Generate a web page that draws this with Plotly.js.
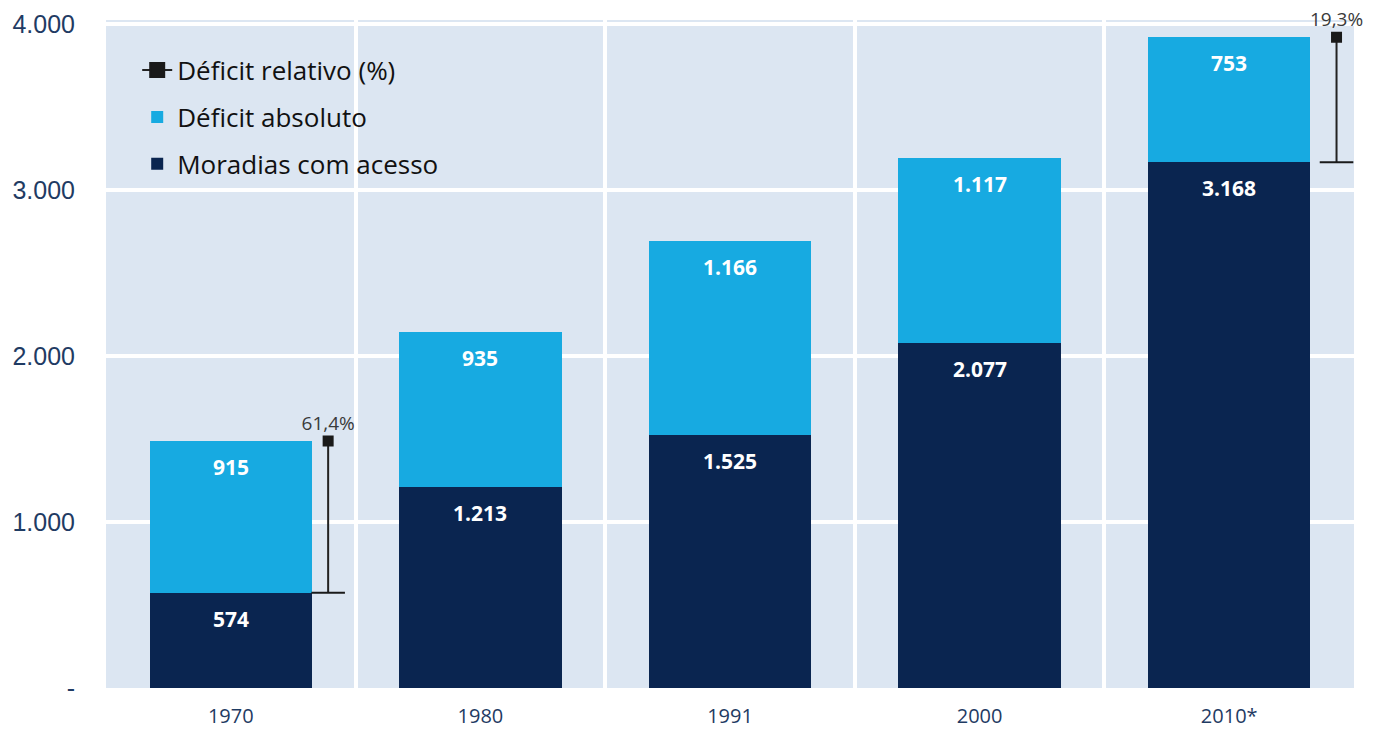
<!DOCTYPE html>
<html><head><meta charset="utf-8">
<script src="https://cdn.plot.ly/plotly-3.0.1.min.js"></script>
<style>html,body{margin:0;padding:0;background:#fff}#c{width:1380px;height:732px}</style>
</head><body><div id="c"></div>
<script>
const categories = ['1970','1980','1991','2000','2010*'];
const moradias = [574, 1213, 1525, 2077, 3168];
const deficitAbs = [915, 935, 1166, 1117, 753];
const moradiasLabels = ['574','1.213','1.525','2.077','3.168'];
const deficitLabels = ['915','935','1.166','1.117','753'];
const relIdx = [0, 4];
const relLabels = ['61,4%','19,3%'];
const relOffset = [0.39, 0.43];
const yTickVals = [0, 1000, 2000, 3000, 4000];
const yTickText = ['-', '1.000', '2.000', '3.000', '4.000'];

const xs = categories.map((c,i)=>i);
const totals = moradias.map((v,i)=>v+deficitAbs[i]);

const DARK = '#0a2550', LIGHT = '#17aae1';

const traces = [
  {type:'bar', name:'Moradias com acesso', legendgroup:'a', legendrank:3, x:xs, y:moradias, width:0.65,
   marker:{color:DARK}, hoverinfo:'skip'},
  {type:'bar', name:'Déficit absoluto', legendgroup:'b', legendrank:2, x:xs, y:deficitAbs, width:0.65,
   marker:{color:LIGHT}, hoverinfo:'skip'}
];
const rx=[], ry=[], rs=[], rz=[], rt=[];
relIdx.forEach((k,j)=>{
  const x = k + relOffset[j];
  rx.push(x, x, null); ry.push(totals[k], moradias[k], null);
  rs.push('square','line-ew','square'); rz.push(9,24,9); rt.push(relLabels[j], '', '');
});
traces.push({type:'scatter', mode:'lines+markers+text', name:'Déficit relativo (%)', legendgroup:'c', legendrank:1,
  x:rx, y:ry, text:rt, textposition:'top center',
  textfont:{family:'Open Sans, sans-serif', size:19, color:'#3a3a3a'},
  line:{color:'#222', width:2},
  marker:{symbol:rs, size:rz, color:'#1a1a1a', opacity:1, line:{color:'#1a1a1a', width:2}},
  opacity:1, hoverinfo:'skip', cliponaxis:false});

const annotations = [];
xs.forEach(i=>{
  annotations.push({x:i, y:moradias[i], yshift:-26, text:'<b>'+moradiasLabels[i]+'</b>', showarrow:false,
    font:{family:'Open Sans, sans-serif', size:21, color:'#fff'}});
  annotations.push({x:i, y:totals[i], yshift:-26, text:'<b>'+deficitLabels[i]+'</b>', showarrow:false,
    font:{family:'Open Sans, sans-serif', size:21, color:'#fff'}});
});

const layout = {
  width:1380, height:732,
  margin:{l:106, r:26, t:20, b:44},
  paper_bgcolor:'#fff', plot_bgcolor:'#dce6f2',
  barmode:'stack', bargap:0.35,
  showlegend:true,
  legend:{x:0.025, y:0.96, xanchor:'left', yanchor:'top', traceorder:'grouped',
    bgcolor:'rgba(0,0,0,0)', font:{family:'Open Sans, sans-serif', size:26, color:'#111'},
    tracegroupgap:10, itemwidth:30},
  xaxis:{type:'linear', range:[-0.5,4.5], tickvals:xs, ticktext:categories,
    showgrid:false, zeroline:false, ticks:'outside', ticklen:10, tickcolor:'rgba(0,0,0,0)',
    minor:{tickvals:[0.5,1.5,2.5,3.5], showgrid:true, gridcolor:'#fff', gridwidth:4, ticks:''},
    tickfont:{family:'Open Sans, sans-serif', size:20, color:'#1f3b63'}},
  yaxis:{range:[0,4025], tickvals:yTickVals, ticktext:yTickText, showgrid:true,
    gridcolor:'#fff', gridwidth:4, zeroline:false, ticks:'outside', ticklen:25, tickcolor:'rgba(0,0,0,0)',
    tickfont:{family:'Liberation Sans, Arial, sans-serif', size:25, color:'#1f3b63'}},
  annotations:annotations
};
Plotly.newPlot('c', traces, layout, {displayModeBar:false, staticPlot:true});
</script></body></html>
